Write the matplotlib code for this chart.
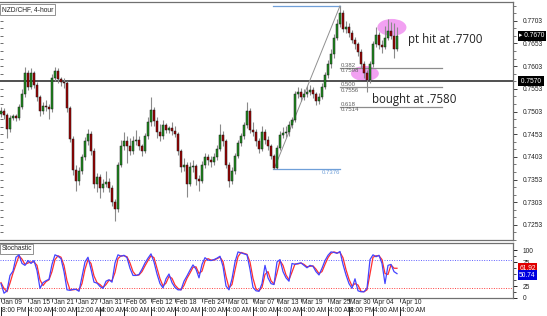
import matplotlib
matplotlib.use("Agg")
import matplotlib.pyplot as plt
from matplotlib.patches import Rectangle, Ellipse

# ---------------- data ----------------
open0 = 0.7498
closes = [
    0.7504, 0.7496, 0.7464, 0.7489, 0.7493, 0.7489, 0.7514, 0.7541, 0.7587, 0.7558,
    0.7587, 0.7562, 0.7535, 0.7504, 0.7516, 0.7514, 0.7508, 0.7578, 0.7593, 0.7574,
    0.7568, 0.7566, 0.7510, 0.7442, 0.7375, 0.7350, 0.7371, 0.7402, 0.7437, 0.7454,
    0.7417, 0.7344, 0.7359, 0.7334, 0.7344, 0.7348, 0.7334, 0.7303, 0.7288, 0.7386,
    0.7427, 0.7437, 0.7427, 0.7417, 0.7437, 0.7441, 0.7427, 0.7417, 0.7448, 0.7479,
    0.7506, 0.7483, 0.7458, 0.7448, 0.7473, 0.7462, 0.7466, 0.7460, 0.7454, 0.7417,
    0.7381, 0.7386, 0.7344, 0.7381, 0.7383, 0.7354, 0.7350, 0.7386, 0.7402, 0.7396,
    0.7392, 0.7402, 0.7421, 0.7452, 0.7437, 0.7386, 0.7350, 0.7371, 0.7406, 0.7433,
    0.7448, 0.7473, 0.7504, 0.7462, 0.7458, 0.7437, 0.7421, 0.7458, 0.7441, 0.7427,
    0.7406, 0.7379, 0.7423, 0.7452, 0.7456, 0.7458, 0.7473, 0.7485, 0.7541, 0.7547,
    0.7535, 0.7541, 0.7547, 0.7551, 0.7541, 0.7527, 0.7535, 0.7558, 0.7583, 0.7608,
    0.7630, 0.7666, 0.7697, 0.7720, 0.7686, 0.7690, 0.7676, 0.7661, 0.7651, 0.7635,
    0.7608, 0.7587, 0.7572, 0.7608, 0.7651, 0.7672, 0.7649, 0.7645, 0.7666, 0.7680,
    0.7670, 0.7641, 0.7670]
highs = [
    0.7512, 0.7510, 0.7500, 0.7495, 0.7498, 0.7497, 0.7520, 0.7552, 0.7601, 0.7594,
    0.7598, 0.7592, 0.7568, 0.7540, 0.7524, 0.7528, 0.7520, 0.7586, 0.7602, 0.7598,
    0.7580, 0.7576, 0.7570, 0.7515, 0.7448, 0.7384, 0.7380, 0.7410, 0.7446, 0.7465,
    0.7460, 0.7422, 0.7368, 0.7365, 0.7355, 0.7372, 0.7356, 0.7340, 0.7310, 0.7392,
    0.7440, 0.7458, 0.7450, 0.7445, 0.7448, 0.7462, 0.7448, 0.7432, 0.7456, 0.7490,
    0.7535, 0.7512, 0.7492, 0.7475, 0.7485, 0.7478, 0.7472, 0.7480, 0.7470, 0.7458,
    0.7420, 0.7400, 0.7392, 0.7392, 0.7396, 0.7388, 0.7362, 0.7394, 0.7412, 0.7410,
    0.7404, 0.7412, 0.7430, 0.7475, 0.7460, 0.7442, 0.7392, 0.7380, 0.7412, 0.7440,
    0.7456, 0.7480, 0.7525, 0.7510, 0.7480, 0.7464, 0.7445, 0.7470, 0.7464, 0.7448,
    0.7432, 0.7410, 0.7430, 0.7460, 0.7468, 0.7470, 0.7482, 0.7492, 0.7548, 0.7558,
    0.7555, 0.7552, 0.7560, 0.7562, 0.7556, 0.7546, 0.7544, 0.7566, 0.7590, 0.7616,
    0.7640, 0.7675, 0.7706, 0.7736, 0.7726, 0.7702, 0.7698, 0.7682, 0.7668, 0.7656,
    0.7640, 0.7614, 0.7595, 0.7614, 0.7658, 0.7690, 0.7678, 0.7660, 0.7692, 0.7706,
    0.7700, 0.7698, 0.7690]
lows = [
    0.7490, 0.7486, 0.7444, 0.7458, 0.7484, 0.7483, 0.7484, 0.7508, 0.7536, 0.7550,
    0.7552, 0.7555, 0.7526, 0.7494, 0.7498, 0.7505, 0.7486, 0.7503, 0.7570, 0.7566,
    0.7560, 0.7555, 0.7502, 0.7436, 0.7362, 0.7327, 0.7342, 0.7365, 0.7396, 0.7430,
    0.7408, 0.7335, 0.7326, 0.7313, 0.7325, 0.7336, 0.7325, 0.7295, 0.7261, 0.7282,
    0.7380, 0.7418, 0.7390, 0.7408, 0.7410, 0.7430, 0.7418, 0.7406, 0.7412, 0.7442,
    0.7472, 0.7470, 0.7444, 0.7438, 0.7442, 0.7455, 0.7456, 0.7452, 0.7446, 0.7408,
    0.7370, 0.7372, 0.7315, 0.7338, 0.7370, 0.7340, 0.7328, 0.7345, 0.7378, 0.7386,
    0.7380, 0.7386, 0.7396, 0.7415, 0.7428, 0.7378, 0.7336, 0.7344, 0.7366, 0.7400,
    0.7426, 0.7442, 0.7466, 0.7455, 0.7448, 0.7428, 0.7412, 0.7416, 0.7432, 0.7418,
    0.7398, 0.7376, 0.7376, 0.7418, 0.7444, 0.7446, 0.7450, 0.7466, 0.7480, 0.7532,
    0.7526, 0.7528, 0.7536, 0.7540, 0.7532, 0.7518, 0.7520, 0.7530, 0.7552, 0.7576,
    0.7600, 0.7622, 0.7660, 0.7690, 0.7678, 0.7676, 0.7668, 0.7654, 0.7640, 0.7626,
    0.7600, 0.7578, 0.7545, 0.7566, 0.7602, 0.7645, 0.7640, 0.7632, 0.7640, 0.7660,
    0.7662, 0.7622, 0.7636]

stoch_k = [
    30, 10, 15, 47, 56, 85, 90, 72, 68, 78,
    72, 78, 57, 20, 32, 36, 39, 70, 90, 87,
    82, 55, 17, 16, 18, 18, 14, 45, 75, 85,
    60, 33, 31, 24, 20, 35, 38, 33, 73, 90,
    87, 89, 84, 62, 47, 47, 49, 60, 73, 83,
    92, 75, 50, 30, 21, 40, 50, 32, 22, 17,
    17, 35, 46, 58, 69, 60, 42, 70, 84, 79,
    78, 80, 83, 87, 66, 25, 17, 40, 75, 96,
    94, 92, 90, 60, 22, 15, 14, 30, 68, 42,
    30, 28, 75, 80, 55, 42, 35, 72, 70, 72,
    73, 68, 63, 68, 66, 55, 48, 62, 78, 89,
    96, 95, 93, 97, 70, 48, 30, 20, 40, 15,
    13, 13, 20, 80, 90, 86, 89, 72, 30, 68,
    70, 55, 50.74]
stoch_d = [
    32, 20, 13, 31, 52, 70, 88, 81, 70, 73,
    75, 75, 68, 38, 26, 34, 38, 55, 80, 88,
    85, 68, 36, 17, 17, 18, 16, 30, 60, 80,
    72, 46, 32, 28, 22, 28, 37, 36, 53, 82,
    88, 88, 86, 73, 55, 47, 48, 55, 67, 78,
    88, 84, 62, 40, 25, 31, 45, 41, 27, 20,
    17, 26, 41, 52, 64, 65, 51, 56, 77, 82,
    79, 79, 82, 85, 76, 45, 21, 28, 58, 86,
    95, 93, 91, 75, 41, 19, 15, 22, 49, 55,
    36, 29, 52, 78, 68, 48, 38, 54, 71, 71,
    73, 70, 65, 66, 67, 60, 51, 55, 70, 84,
    93, 96, 94, 95, 84, 59, 39, 25, 30, 27,
    14, 13, 17, 50, 85, 88, 88, 80, 51, 49,
    69, 62, 61.92]

date_labels = ["Jan 09", "Jan 15", "Jan 21", "Jan 27", "Jan 31", "Feb 06", "Feb 12",
               "Feb 18", "Feb 24", "Mar 01", "Mar 07", "Mar 13", "Mar 19", "Mar 25",
               "Mar 30", "Apr 04", "Apr 10"]
date_pos = [0, 9, 17, 25, 33, 41, 50, 58, 67, 75, 84, 92, 100, 109, 116, 124, 133]
time_labels = ["8:00 PM", "4:00 AM", "4:00 AM", "12:00 AM", "4:00 AM", "4:00 AM", "4:00 AM",
               "4:00 AM", "4:00 AM", "4:00 AM", "4:00 AM", "4:00 AM", "4:00 AM", "4:00 AM",
               "8:00 PM", "4:00 AM", "4:00 AM"]

price_ticks = [0.7703, 0.7653, 0.7603, 0.7553, 0.7503, 0.7453, 0.7403, 0.7353, 0.7303, 0.7253]
stoch_ticks = [100, 75, 25, 0]
stoch_levels = [80, 20]
hline_price = 0.7570
last_price = 0.7670
swing_low_idx, swing_low = 91, 0.7376
swing_high_idx, swing_high = 113, 0.7736
fib_ratios = [0.382, 0.500, 0.618]

# ---------------- figure ----------------
W, H = 547, 316
fig = plt.figure(figsize=(W / 100, H / 100), dpi=100)
fig.patch.set_facecolor("white")
FONT = ["Liberation Sans", "DejaVu Sans"]

def fy(py):
    return 1 - py / H

PX = 0.0002075  # price per pixel
ax = fig.add_axes([0, fy(240), 513 / W, 238 / H])
sx = fig.add_axes([0, fy(298), 513 / W, 55 / H], sharex=ax)

N = len(closes)
opens = [open0] + closes[:-1]
ax.set_xlim(-1 / 3, 512 / 3)
ax.set_ylim(0.7703 - 218 * PX, 0.7703 + 20 * PX)

GREEN, RED, WICK = "#1f8f1f", "#a00000", "#8a8a8a"
for i in range(N):
    o, h, l, c = opens[i], highs[i], lows[i], closes[i]
    ax.vlines(i, l, h, color=WICK, lw=0.8, zorder=3)
    col = GREEN if c >= o else RED
    ax.add_patch(Rectangle((i - 0.34, min(o, c)), 0.68, max(abs(c - o), 0.00006),
                           facecolor=col, edgecolor="#1a1a1a", lw=0.35, zorder=4))

# horizontal line
ax.axhline(hline_price, color="#202020", lw=1.1, zorder=2)

# fib tool
rng = swing_high - swing_low
FIBBLUE = "#6f9fd8"
ax.plot([swing_low_idx - 0.3, swing_high_idx], [swing_high, swing_high], color=FIBBLUE, lw=0.9, zorder=2)
ax.plot([swing_low_idx - 0.3, swing_high_idx], [swing_low, swing_low], color=FIBBLUE, lw=0.9, zorder=2)
ax.plot([swing_low_idx, swing_high_idx], [swing_low, swing_high], color="#909090", lw=0.7, zorder=2)
ax.text(swing_high_idx, swing_low - 0.00025, f"{swing_low:.4f}", color=FIBBLUE, fontsize=4.3,
        family=FONT, ha="right", va="top")
for r in fib_ratios:
    lvl = swing_high - r * rng
    ax.plot([swing_high_idx, 147], [lvl, lvl], color="#8c8c8c", lw=0.9, zorder=2)
    ax.text(swing_high_idx + 0.3, lvl + 0.00005, f"{r:.3f}", color="#606060", fontsize=4.3,
            family=FONT, ha="left", va="bottom")
    ax.text(swing_high_idx + 0.3, lvl - 0.00003, f"{lvl:.4f}", color="#606060", fontsize=4.3,
            family=FONT, ha="left", va="top")

# highlight ellipses
PINK = "#ee82ee"
ax.add_patch(Ellipse((130.3, 0.76885), 9.7, 18 * PX, facecolor=PINK, alpha=0.75, lw=0, zorder=1))
ax.add_patch(Ellipse((121.3, 0.75868), 9.3, 16 * PX, facecolor=PINK, alpha=0.75, lw=0, zorder=1))

ax.text(135.7, 0.76615, "pt hit at .7700", fontsize=8.3, family="Open Sans", color="#222222",
        ha="left", va="center")
ax.text(123.7, 0.75287, "bought at .7580", fontsize=8.3, family="Open Sans", color="#222222",
        ha="left", va="center")

# title box
ax.text(0.004, 0.985, "NZD/CHF, 4-hour", transform=ax.transAxes, fontsize=4.8, family=FONT,
        ha="left", va="top", color="#222222",
        bbox=dict(boxstyle="square,pad=0.3", facecolor="white", edgecolor="#808080", lw=0.6))

# right price axis
ax.yaxis.tick_right()
ax.set_yticks(price_ticks)
ax.set_yticklabels([f"{t:.4f}" for t in price_ticks], fontsize=4.8, family=FONT, color="#222222")
minor = [0.7703 - k * 0.005 / 3 for k in range(-2, 30)]
ax.set_yticks(minor, minor=True)
ax.tick_params(axis="y", which="major", length=3, width=0.6, pad=4, colors="#222222")
ax.tick_params(axis="y", which="minor", length=2, width=0.5, colors="#444444")
ax.tick_params(axis="x", which="both", bottom=False, labelbottom=False)
ax.hlines(minor, 0, 0.006, transform=ax.get_yaxis_transform(), color="#555555", lw=0.6)

ytr = ax.get_yaxis_transform()
ax.text(1.012, last_price, "\u25b8 0.7670", transform=ytr, fontsize=4.8, family=FONT, color="white",
        ha="left", va="center", bbox=dict(boxstyle="square,pad=0.2", facecolor="black", lw=0))
ax.text(1.012, hline_price, " 0.7570 ", transform=ytr, fontsize=4.8, family=FONT, color="white",
        ha="left", va="center", bbox=dict(boxstyle="square,pad=0.2", facecolor="black", lw=0))

for a in (ax, sx):
    for s in a.spines.values():
        s.set_color("#707070")
        s.set_linewidth(0.9)
    a.spines["left"].set_visible(False)
    a.set_facecolor("white")

# stochastic panel
sx.plot(range(N), stoch_d, color="#ff3030", lw=0.9, zorder=3)
sx.plot(range(N), stoch_k, color="#4444ff", lw=0.9, zorder=4)
sx.axhline(stoch_levels[0], color="#6060ff", lw=0.7, ls=(0, (1, 1.5)))
sx.axhline(stoch_levels[1], color="#ff4040", lw=0.7, ls=(0, (1, 1.5)))
sx.set_ylim(0, 114.6)
sx.yaxis.tick_right()
sx.set_yticks(stoch_ticks)
sx.set_yticklabels([str(t) for t in stoch_ticks], fontsize=4.8, family=FONT, color="#222222")
sx.set_yticks([12.5, 37.5, 50, 62.5, 87.5], minor=True)
sx.tick_params(axis="y", which="major", length=3, width=0.6, pad=4)
sx.tick_params(axis="y", which="minor", length=2, width=0.5)
sytr = sx.get_yaxis_transform()
sx.text(1.012, stoch_d[-1], f"{stoch_d[-1]:.2f}", transform=sytr, fontsize=4.8, family=FONT,
        color="white", ha="left", va="center",
        bbox=dict(boxstyle="square,pad=0.2", facecolor="#e00000", lw=0))
sx.text(1.012, stoch_k[-1] - 3, f"{stoch_k[-1]:.2f}", transform=sytr, fontsize=4.8, family=FONT,
        color="white", ha="left", va="center",
        bbox=dict(boxstyle="square,pad=0.2", facecolor="#0000e0", lw=0))
sx.text(0.003, 0.96, "Stochastic", transform=sx.transAxes, fontsize=4.8, family=FONT,
        ha="left", va="top", color="#222222",
        bbox=dict(boxstyle="square,pad=0.2", facecolor="white", edgecolor="#808080", lw=0.6))

# bottom date / time rows
sx.set_xticks(date_pos)
sx.tick_params(axis="x", which="major", length=3, width=0.6, labelbottom=False, colors="#333333")
xtr = sx.get_xaxis_transform()
for p, dl, tl in zip(date_pos, date_labels, time_labels):
    sx.text(p + 0.5, -0.02, dl, transform=xtr, fontsize=4.8, family=FONT, ha="left", va="top",
            color="#222222")
    sx.text(p + 0.2, -0.17, tl, transform=xtr, fontsize=4.8, family=FONT, ha="left", va="top",
            color="#222222")
    sx.plot([p, p], [-0.16, -0.30], transform=xtr, color="#222222", lw=0.7, clip_on=False)

fig.savefig("out.png", dpi=100, facecolor="white")
